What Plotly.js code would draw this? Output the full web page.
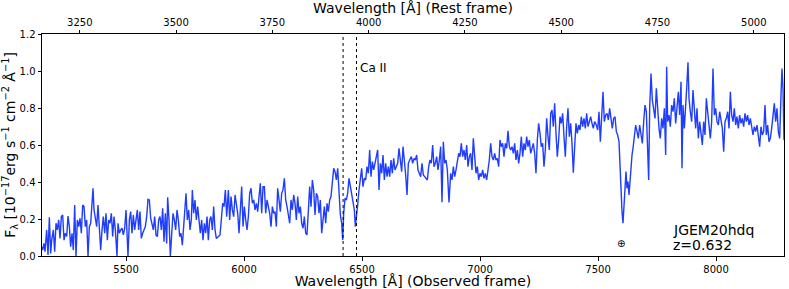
<!DOCTYPE html>
<html>
<head>
<meta charset="utf-8">
<script src="https://cdn.plot.ly/plotly-3.0.1.min.js"></script>
<style>html,body{margin:0;padding:0;background:#fff;}#chart{width:789px;height:289px;}</style>
</head>
<body>
<div id="chart"></div>
<script>
// ---- data ----
const redshift = 0.632;
const objectName = 'JGEM20hdq';
const caIIRest = [3933.66, 3968.47];
const caIILabel = 'Ca II';
const telluricWave = [7597];
const telluricFlux = [0.065];
const observedRange = [5144, 8288];
const fluxRange = [0, 1.2];
const restTicks = [3250, 3500, 3750, 4000, 4250, 4500, 4750, 5000];

const wave = [
5144.5,5146.9,5152.5,5156.8,5163.8,5169.5,5175.1,5180.8,5185.0,5192.1,5197.7,5203.4,5209.0,5214.7,5220.3,5226.0,5231.6,5237.3,5242.9,5248.6,
5254.2,5259.9,5265.5,5271.2,5276.8,5282.5,5288.1,5293.8,5299.4,5305.1,5310.7,5316.4,5322.0,5327.7,5333.3,5339.0,5344.6,5350.3,5355.9,5360.2,
5364.4,5370.0,5375.7,5381.3,5387.0,5392.6,5398.3,5403.9,5409.6,5415.2,5420.9,5426.5,5432.2,5437.8,5443.5,5449.1,5454.8,5461.8,5466.1,5471.7,
5477.4,5483.0,5488.7,5494.3,5500.0,5508.4,5514.1,5519.7,5525.4,5531.0,5536.7,5542.3,5548.0,5553.6,5559.3,5564.9,5570.6,5581.9,5587.5,5593.2,
5598.8,5604.5,5610.1,5615.8,5621.4,5627.1,5632.7,5638.4,5644.0,5649.7,5655.3,5661.0,5666.6,5672.3,5676.5,5682.2,5687.8,5693.5,5699.1,5704.8,
5710.4,5716.1,5721.7,5727.4,5733.0,5738.7,5744.3,5750.0,5754.2,5759.8,5765.5,5771.1,5776.8,5781.0,5786.7,5792.3,5798.0,5803.6,5809.3,5814.9,
5820.6,5826.2,5831.9,5837.5,5843.2,5848.8,5854.5,5860.1,5865.8,5871.4,5877.1,5882.7,5898.3,5903.9,5909.6,5915.2,5920.9,
5926.6,5933.6,5939.3,5944.9,5950.6,5956.2,5961.9,5967.5,5973.2,5978.8,5984.5,5990.1,5995.8,6001.4,6007.1,6012.7,6018.4,6024.0,6029.7,6035.3,
6041.0,6046.6,6052.3,6057.9,6063.6,6069.2,6074.9,6080.5,6086.2,6091.8,6097.5,6103.1,6108.8,6114.4,6120.1,6125.7,6131.4,6137.0,6142.6,6148.3,
6153.9,6159.6,6165.2,6170.9,6176.5,6182.2,6187.8,6193.5,6199.1,6204.8,6210.4,6216.1,6221.7,6227.4,6233.0,6238.7,6244.3,6250.0,6255.6,6261.3,
6266.9,6272.6,6278.2,6283.9,6289.5,6295.2,6300.8,6306.5,6312.1,6317.8,6323.4,6329.1,6334.7,6340.4,6346.0,6351.7,6357.3,6363.0,6368.6,6374.3,
6379.9,6385.6,6391.2,6396.9,6402.5,6408.2,6413.8,6418.1,6422.3,6427.9,6433.6,6439.2,6444.9,6450.5,6456.2,6461.8,6467.5,6471.7,6475.9,6481.6,
6487.2,6492.9,6498.5,6504.2,6509.8,6515.5,6521.1,6526.8,6532.4,6538.1,6543.7,6549.4,6555.0,6560.7,6566.3,6572.0,6577.6,6583.3,6588.9,6594.6,
6600.2,6605.9,6611.5,6617.2,6622.8,6628.5,6634.1,6639.8,6645.4,6651.1,6656.7,6662.4,6668.0,6673.7,6679.3,6685.0,6690.6,6696.3,6701.9,
6709.0,6714.6,6720.2,6725.9,6731.5,6737.2,6742.8,6748.5,6754.1,6759.8,6765.4,6771.1,6776.7,6782.4,6788.0,6793.7,6799.3,6805.0,6810.6,6816.3,
6821.9,6827.6,6833.2,6838.9,6844.5,6850.2,6855.8,6861.5,6868.5,6875.6,6881.3,6886.9,6892.6,6898.2,6903.8,6909.5,6915.1,6920.8,6926.4,6932.1,
6937.7,6943.4,6949.0,6954.7,6960.3,6966.0,6971.6,6977.3,6982.9,6988.6,6994.2,6999.9,7005.5,7011.2,7016.8,7022.5,7028.1,7033.8,7039.4,7045.1,
7050.7,7056.4,7062.0,7067.7,7073.3,7079.0,7084.6,7090.3,7095.9,7101.6,7107.2,7112.9,7118.5,7124.2,7129.8,7135.5,7141.1,7146.8,7152.4,7158.1,
7163.7,7169.4,7175.0,7180.7,7186.3,7192.0,7197.6,7203.3,7208.9,7214.6,7220.2,7225.9,7231.5,7237.1,7242.8,7248.4,7254.1,7259.7,7265.4,7271.0,
7276.7,7282.3,7288.0,7293.6,7299.3,7304.9,7310.6,7316.2,7321.9,7327.5,7333.2,7338.8,7344.5,7350.1,7355.8,7361.4,7367.1,7372.7,7378.4,7384.0,
7389.7,7395.3,7401.0,7406.6,7412.3,7417.9,7423.6,7429.2,7434.9,7440.5,7446.2,7451.8,7457.5,7463.1,7468.8,7474.4,7480.1,7485.7,
7492.8,7498.5,7504.1,7509.8,7515.4,7521.1,7526.7,7532.4,7538.0,7543.7,7549.3,7555.0,7560.6,7566.3,7571.9,7577.6,7583.2,7588.9,7593.1,7597.4,
7601.6,7605.8,7610.1,7614.3,7618.5,7622.8,7627.0,7631.3,7635.5,7639.7,7644.0,7648.2,7653.9,7659.5,7665.2,7670.8,7676.4,7682.1,7687.7,7693.4,
7699.0,7704.7,7710.3,7714.6,7718.8,7724.5,7730.1,7735.8,7741.4,7747.1,7752.7,7758.4,7764.0,7769.7,7775.3,7781.0,7786.6,7790.8,7795.1,7800.7,
7806.4,7812.0,7817.7,7823.3,7829.0,7834.6,7840.3,7845.9,7851.6,7855.8,7860.0,7865.7,7871.3,7875.6,7881.2,7885.5,7891.1,7896.8,7902.4,7908.1,
7913.7,7919.4,7925.0,7930.7,7936.3,7942.0,7947.6,7953.3,7958.9,7964.6,7970.2,7975.9,7981.5,7987.2,7992.8,7998.5,8004.1,8009.8,8015.4,8021.1,
8026.7,8032.4,8038.0,8043.7,8049.3,8055.0,8060.6,8066.2,8071.9,8077.5,8083.2,8088.8,8094.5,8100.1,8105.8,8111.4,8117.1,8122.7,8128.4,8134.0,
8139.7,8145.3,8151.0,8156.6,8162.3,8167.9,8173.6,8179.2,8184.9,8190.5,8196.2,8201.8,8207.5,8213.1,8218.8,8224.4,8230.1,8235.7,8241.4,8247.0,
8252.7,8258.3,8264.0,8269.6,8275.3,8279.5,8283.7,8288.0
];

const flux = [
0.050,0.032,0.068,0.023,0.141,0.005,0.209,0.014,0.086,0.141,0.023,0.177,0.141,0.195,0.095,0.213,0.222,0.086,0.123,0.105,
0.216,0.159,0.050,0.123,0.032,0.276,0.000,0.195,0.159,0.204,0.123,0.276,0.267,0.159,0.195,0.000,0.159,0.177,0.285,0.366,
0.249,0.195,0.159,0.276,0.123,0.032,0.141,0.213,0.123,0.231,0.086,0.195,0.177,0.231,0.105,0.213,0.141,0.000,0.177,0.123,
0.141,0.150,0.114,0.150,0.249,0.000,0.195,0.240,0.123,0.222,0.141,0.213,0.249,0.141,0.240,0.095,0.123,0.159,0.213,0.306,
0.303,0.204,0.177,0.141,0.213,0.114,0.105,0.195,0.213,0.141,0.258,0.077,0.231,0.068,0.317,0.195,0.000,0.123,0.231,0.195,
0.141,0.249,0.195,0.105,0.123,0.059,0.159,0.267,0.339,0.195,0.249,0.141,0.195,0.357,0.231,0.303,0.195,0.267,0.177,0.123,
0.195,0.086,0.177,0.123,0.213,0.086,0.195,0.213,0.141,0.267,0.141,0.095,0.114,0.213,0.285,0.267,0.357,
0.213,0.357,0.195,0.321,0.249,0.213,0.330,0.267,0.231,0.123,0.231,0.375,0.159,0.267,0.195,0.141,0.213,0.339,0.366,0.285,
0.303,0.249,0.285,0.240,0.321,0.393,0.231,0.375,0.375,0.231,0.303,0.267,0.231,0.159,0.267,0.231,0.240,0.159,0.366,0.303,
0.240,0.339,0.357,0.420,0.303,0.267,0.231,0.177,0.303,0.249,0.330,0.285,0.195,0.321,0.231,0.267,0.177,0.150,0.213,0.123,
0.114,0.231,0.375,0.267,0.411,0.357,0.222,0.339,0.321,0.231,0.303,0.123,0.195,0.267,0.177,0.285,0.240,0.303,0.321,0.411,
0.474,0.456,0.411,0.474,0.321,0.222,0.177,0.086,0.231,0.312,0.303,0.339,0.420,0.375,0.339,0.303,0.249,0.159,0.231,0.276,
0.357,0.411,0.474,0.375,0.420,0.411,0.483,0.447,0.573,0.429,0.510,0.465,0.501,0.537,0.573,0.357,0.501,0.447,0.546,0.411,
0.501,0.429,0.483,0.429,0.519,0.447,0.528,0.465,0.483,0.501,0.582,0.519,0.456,0.591,0.519,0.438,0.330,0.501,0.519,
0.537,0.501,0.528,0.519,0.546,0.465,0.447,0.429,0.501,0.438,0.429,0.420,0.411,0.483,0.519,0.501,0.600,0.483,0.501,0.537,
0.465,0.519,0.591,0.290,0.618,0.501,0.519,0.465,0.290,0.447,0.411,0.483,0.429,0.465,0.519,0.555,0.537,0.609,0.537,0.573,
0.519,0.600,0.483,0.537,0.555,0.465,0.636,0.519,0.447,0.483,0.411,0.447,0.429,0.465,0.420,0.447,0.411,0.465,0.519,0.609,
0.537,0.519,0.555,0.519,0.528,0.483,0.627,0.591,0.609,0.537,0.609,0.582,0.677,0.591,0.573,0.591,0.555,0.609,0.519,0.573,
0.501,0.555,0.645,0.537,0.609,0.573,0.645,0.591,0.627,0.555,0.591,0.609,0.555,0.447,0.627,0.717,0.663,0.591,0.609,0.483,
0.573,0.744,0.645,0.573,0.771,0.789,0.699,0.825,0.663,0.537,0.627,0.753,0.717,0.771,0.645,0.537,0.699,0.798,0.645,0.717,
0.609,0.450,0.591,0.717,0.663,0.708,0.681,0.753,0.699,0.744,0.690,0.771,0.699,0.735,0.753,0.717,0.690,0.726,
0.708,0.681,0.780,0.618,0.744,0.888,0.726,0.762,0.771,0.735,0.798,0.726,0.690,0.744,0.753,0.672,0.654,0.618,0.465,0.366,
0.240,0.177,0.276,0.402,0.456,0.366,0.402,0.330,0.402,0.492,0.546,0.582,0.654,0.708,0.672,0.636,0.708,0.654,0.609,0.726,
0.816,0.780,0.618,0.411,0.798,0.987,0.843,0.798,0.744,0.906,0.762,0.690,0.636,0.744,0.690,0.798,0.546,1.023,0.726,0.762,
0.699,0.816,0.780,0.852,0.717,0.834,0.888,0.762,0.942,0.474,0.816,0.690,0.870,0.906,1.047,0.852,0.780,0.726,0.897,0.762,
0.690,0.798,0.636,0.726,0.672,0.600,0.726,0.654,0.852,0.780,0.690,0.636,0.726,1.014,0.762,0.798,0.726,0.708,0.780,0.744,
0.690,0.564,0.726,0.744,0.780,0.690,0.888,0.762,0.726,0.798,0.708,0.753,0.690,0.762,0.717,0.744,0.699,0.771,0.726,0.762,
0.708,0.744,0.690,0.654,0.699,0.672,0.708,0.636,0.591,0.699,0.654,0.672,0.816,0.654,0.708,0.618,0.636,0.690,0.762,0.825,
0.726,0.798,0.672,0.636,0.870,1.014,0.906,0.627
];

// ---- chart ----
const fontFam = 'DejaVu Sans, sans-serif';
const ink = '#000000';

const traces = [
  {
    x: wave, y: flux, type: 'scatter', mode: 'lines',
    line: {color: '#1f3dff', width: 1.4},
    hoverinfo: 'skip', showlegend: false
  },
  // same spectrum in the rest frame, invisible: it only carries the top axis
  {
    x: wave.map(w => w / (1 + redshift)), y: flux, xaxis: 'x2', yaxis: 'y',
    type: 'scatter', mode: 'lines', opacity: 0,
    line: {color: 'rgba(0,0,0,0)', width: 0},
    hoverinfo: 'skip', showlegend: false
  }
];

const shapes = caIIRest.map(w => ({
  type: 'line', xref: 'x', yref: 'paper',
  x0: w * (1 + redshift), x1: w * (1 + redshift), y0: 0, y1: 1,
  line: {color: ink, width: 1, dash: 'dot'}
}));

const annotations = [
  {x: caIIRest[1] * (1 + redshift), y: 1.016, xref: 'x', yref: 'y', text: caIILabel,
   xanchor: 'left', yanchor: 'middle', xshift: 2, showarrow: false,
   font: {family: fontFam, size: 12, color: ink}},
  {x: telluricWave[0], y: telluricFlux[0], xref: 'x', yref: 'y', text: '⊕',
   xanchor: 'center', yanchor: 'middle', showarrow: false,
   font: {family: fontFam, size: 10, color: ink}},
  {x: 7810, y: 0.14, xref: 'x', yref: 'y', text: objectName,
   xanchor: 'left', yanchor: 'middle', showarrow: false,
   font: {family: fontFam, size: 14, color: ink}},
  {x: 7810, y: 0.06, xref: 'x', yref: 'y', text: 'z=' + redshift.toFixed(3),
   xanchor: 'left', yanchor: 'middle', showarrow: false,
   font: {family: fontFam, size: 14, color: ink}}
];

const axisCommon = {
  showgrid: false, zeroline: false, showline: true, linecolor: ink, linewidth: 1,
  ticks: 'outside', ticklen: 3.5, tickwidth: 1, tickcolor: ink,
  tickfont: {family: fontFam, size: 10, color: ink}, automargin: false
};

const layout = {
  width: 789, height: 289,
  margin: {l: 42, r: 5, t: 34, b: 33},
  paper_bgcolor: '#ffffff', plot_bgcolor: '#ffffff',
  font: {family: fontFam, color: ink},
  xaxis: Object.assign({}, axisCommon, {
    range: observedRange, dtick: 500, tick0: 5500, mirror: true,
    title: {text: 'Wavelength [Å] (Observed frame)', font: {family: fontFam, size: 14, color: ink}, standoff: 2}
  }),
  xaxis2: Object.assign({}, axisCommon, {
    overlaying: 'x', side: 'top', anchor: 'y',
    range: [observedRange[0] / (1 + redshift), observedRange[1] / (1 + redshift)],
    tickvals: restTicks, ticktext: restTicks.map(String),
    title: {text: 'Wavelength [Å] (Rest frame)', font: {family: fontFam, size: 14, color: ink}, standoff: 2}
  }),
  yaxis: Object.assign({}, axisCommon, {
    range: fluxRange, dtick: 0.2, tickformat: '.1f', mirror: true,
    title: {text: 'F<sub>λ</sub> [10<sup>−17</sup>erg s<sup>−1</sup> cm<sup>−2</sup> Å<sup>−1</sup>]',
            font: {family: fontFam, size: 14, color: ink}, standoff: 4}
  }),
  shapes: shapes,
  annotations: annotations
};

Plotly.newPlot('chart', traces, layout, {staticPlot: true, displayModeBar: false});
</script>
</body>
</html>
